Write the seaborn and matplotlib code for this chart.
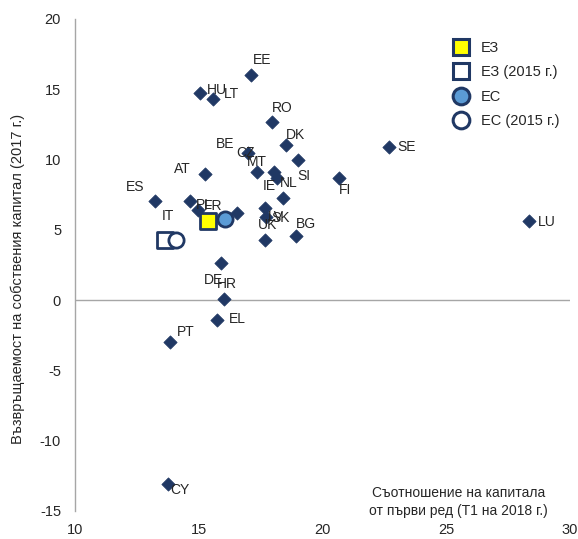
import matplotlib
matplotlib.use('Agg')
import matplotlib.pyplot as plt
import seaborn as sns
import pandas as pd
from matplotlib.lines import Line2D

# country points: T1 ratio 2018 (x) vs ROE 2017 (y)
countries = ['EE', 'HU', 'LT', 'RO', 'DK', 'SE', 'BE', 'CZ', 'MT', 'IE', 'NL', 'SI', 'FI', 'AT',
             'ES', 'IT', 'PL', 'FR', 'LV', 'SK', 'UK', 'BG', 'DE', 'HR', 'EL', 'PT', 'CY', 'LU']
tier1 = [17.13, 15.06, 15.59, 17.94, 18.54, 22.67, 17.0, 17.37, 18.06, 18.18, 18.42, 18.99, 20.65, 15.26,
         13.24, 14.66, 14.98, 16.56, 17.69, 17.73, 17.69, 18.91, 15.91, 16.03, 15.75, 13.85, 13.77, 28.34]
roe = [16.0, 14.72, 14.3, 12.66, 11.02, 10.88, 10.45, 9.1, 9.1, 8.68, 7.25, 9.96, 8.68, 8.96,
       7.04, 7.04, 6.4, 6.19, 6.54, 5.9, 4.27, 4.55, 2.63, 0.1, -1.42, -2.99, -13.09, 5.62]

# aggregates
agg_names = ['ЕЗ', 'ЕЗ (2015 г.)', 'ЕС', 'ЕС (2015 г.)']
agg_x = [15.38, 13.64, 16.07, 14.09]
agg_y = [5.62, 4.27, 5.76, 4.27]

# label offsets in pixels (dx, dy up)
label_off = {
    'EE': (11, 15), 'HU': (17, 3), 'LT': (18, 5), 'RO': (11, 14), 'DK': (9, 10), 'SE': (18, 0),
    'BE': (-23, 9), 'CZ': (-12, 19), 'MT': (-18, 10), 'IE': (-8, -8), 'NL': (5, 15), 'SI': (6, -16),
    'FI': (6, -12), 'AT': (-23, 5), 'ES': (-20, 14), 'IT': (-22, -15), 'PL': (6, 5), 'FR': (-24, 7),
    'LV': (11, -9), 'SK': (14, -1), 'UK': (2, 15), 'BG': (10, 12), 'DE': (-8, -17), 'HR': (3, 15),
    'EL': (20, 1), 'PT': (15, 10), 'CY': (12, -6), 'LU': (18, -1),
}

navy = '#203864'
grey = '#A6A6A6'
txt = '#262626'

sns.set_style('white')
plt.rcParams['font.family'] = ['Liberation Sans', 'DejaVu Sans']
plt.rcParams['font.size'] = 10
plt.rcParams['axes.unicode_minus'] = False

df = pd.DataFrame({'country': countries, 'tier1': tier1, 'roe': roe})

fig = plt.figure(figsize=(5.78, 5.39), dpi=100)
ax = fig.add_axes([75 / 578, 28 / 539, 495 / 578, 492 / 539])

ax.axhline(0, color=grey, lw=1, zorder=1)
sns.scatterplot(data=df, x='tier1', y='roe', marker='D', s=46, color=navy,
                edgecolor=navy, linewidth=0.5, ax=ax, zorder=3)

for c, x, y in zip(countries, tier1, roe):
    dx, dy = label_off[c]
    ax.annotate(c, (x, y), xytext=(dx * 0.72, dy * 0.72), textcoords='offset points',
                ha='center', va='center', color=txt, fontsize=10, zorder=5)

styles = [
    dict(marker='s', facecolor='#FFFF00'),
    dict(marker='s', facecolor='white'),
    dict(marker='o', facecolor='#5B9BD5'),
    dict(marker='o', facecolor='white'),
]
for x, y, st in zip(agg_x, agg_y, styles):
    ax.scatter([x], [y], s=120, marker=st['marker'], facecolor=st['facecolor'],
               edgecolor=navy, linewidth=2, zorder=4)

handles = [Line2D([], [], ls='none', marker=st['marker'], markersize=12,
                  markerfacecolor=st['facecolor'], markeredgecolor=navy, markeredgewidth=2.2)
           for st in styles]
leg = ax.legend(handles, agg_names, loc='upper left', bbox_to_anchor=(0.735, 0.982),
                frameon=False, handlelength=1.2, handletextpad=0.8, labelspacing=0.72,
                fontsize=10.5)
for t in leg.get_texts():
    t.set_color(txt)

ax.set_xlim(10, 30)
ax.set_ylim(-15, 20)
ax.set_xticks([10, 15, 20, 25, 30])
ax.set_yticks(range(-15, 21, 5))
ax.tick_params(length=0, labelsize=10.5, colors=txt)
ax.tick_params(axis='y', pad=10)
ax.tick_params(axis='x', pad=9)
for s in ['top', 'right', 'bottom']:
    ax.spines[s].set_visible(False)
ax.spines['left'].set_color(grey)
ax.spines['left'].set_linewidth(1)
ax.set_xlabel('')
ax.set_ylabel('')

ax.text(0.774, 0.018, 'Съотношение на капитала\nот първи ред (T1 на 2018 г.)', transform=ax.transAxes,
        ha='center', va='center', multialignment='center', fontsize=10, color=txt, linespacing=1.35)
fig.text(18 / 578, 1 - 279 / 539, 'Възвръщаемост на собствения капитал (2017 г.)',
         rotation=90, ha='center', va='center', fontsize=10.5, color=txt)

fig.savefig('out.png', dpi=100)
